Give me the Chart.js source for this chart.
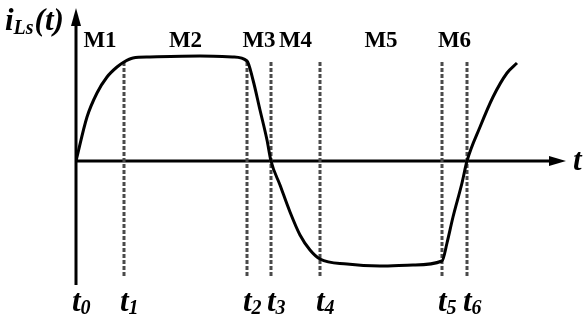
<!DOCTYPE html>
<html>
<head>
<meta charset="utf-8">
<script src="https://cdn.jsdelivr.net/npm/chart.js@4"></script>
<style>
  html, body { margin: 0; padding: 0; background: #fff; }
  #wrap { width: 583px; height: 322px; }
</style>
</head>
<body>
<div id="wrap"><canvas id="waveChart"></canvas></div>
<script>
// switching instants t0..t6 and the modes between them
const instantSubs = ['0', '1', '2', '3', '4', '5', '6'];
const instants = [0, 4.8, 17.1, 19.5, 24.4, 36.6, 39.1];
const modeNames = ['M1', 'M2', 'M3', 'M4', 'M5', 'M6'];

// inductor current iLs(t)
const curveT = [0, 1.1, 2.1, 3.1, 4.1, 4.8, 5.7, 7.4, 12.4, 15.7, 17.1,
  17.7, 18.4, 19.1, 19.5, 20.4, 21.4, 22.4, 23.4, 24.4, 27.1, 30.4, 33.7, 36.6,
  37.1, 37.7, 38.6, 39.1, 40.4, 41.7, 43.1, 44.1];
const curveI = [0, 4.4, 6.8, 8.4, 9.4, 9.9, 10.3, 10.4, 10.5, 10.4, 10.0,
  8.1, 5.1, 2.1, 0, -2.4, -5.1, -7.4, -8.9, -9.8, -10.3, -10.5, -10.4, -10.0,
  -8.2, -5.6, -2.2, 0, 3.4, 6.4, 8.8, 9.8];

// extent of the dotted marker lines
const markerTop = 9.9;
const markerBottom = -11.6;

const serif = '"Liberation Serif", "Times New Roman", serif';

const datasets = [{
  data: curveT.map((t, i) => ({ x: t, y: curveI[i] })),
  borderColor: '#000',
  borderWidth: 3,
  pointRadius: 0,
  cubicInterpolationMode: 'monotone'
}];

// one dotted vertical line per instant after t0
instants.slice(1).forEach(t => {
  datasets.push({
    data: [{ x: t, y: markerTop }, { x: t, y: markerBottom }],
    borderColor: '#4a4a4a',
    borderWidth: 3,
    borderDash: [4, 2],
    pointRadius: 0
  });
});

function drawSub(ctx, x, y, main, sub, size, subSize, subDrop) {
  ctx.font = 'italic bold ' + size + 'px ' + serif;
  ctx.fillText(main, x, y);
  const w = ctx.measureText(main).width;
  ctx.font = 'italic bold ' + subSize + 'px ' + serif;
  ctx.fillText(sub, x + w, y + subDrop);
  return x + w + ctx.measureText(sub).width;
}

const axesPlugin = {
  id: 'axesPlugin',
  beforeDatasetsDraw(chart) {
    const { ctx, chartArea, scales } = chart;
    const x0 = scales.x.getPixelForValue(0);
    const y0 = scales.y.getPixelForValue(0);
    ctx.save();
    ctx.strokeStyle = '#000';
    ctx.fillStyle = '#000';
    ctx.lineWidth = 3;
    // vertical axis
    ctx.beginPath();
    ctx.moveTo(x0, chartArea.bottom);
    ctx.lineTo(x0, chartArea.top + 12);
    ctx.stroke();
    ctx.beginPath();
    ctx.moveTo(x0, chartArea.top);
    ctx.lineTo(x0 - 5, chartArea.top + 18);
    ctx.lineTo(x0 + 5, chartArea.top + 18);
    ctx.closePath();
    ctx.fill();
    // horizontal axis
    ctx.beginPath();
    ctx.moveTo(x0, y0);
    ctx.lineTo(chartArea.right - 12, y0);
    ctx.stroke();
    ctx.beginPath();
    ctx.moveTo(chartArea.right, y0);
    ctx.lineTo(chartArea.right - 17, y0 - 5);
    ctx.lineTo(chartArea.right - 17, y0 + 5);
    ctx.closePath();
    ctx.fill();
    ctx.restore();
  },
  afterDatasetsDraw(chart) {
    const { ctx, chartArea, scales } = chart;
    ctx.save();
    ctx.fillStyle = '#000';
    ctx.textBaseline = 'alphabetic';

    // mode names centred between instants
    ctx.font = 'bold 23px ' + serif;
    ctx.textAlign = 'center';
    modeNames.forEach((m, i) => {
      const xa = scales.x.getPixelForValue(instants[i]);
      const xb = scales.x.getPixelForValue(instants[i + 1]);
      ctx.fillText(m, (xa + xb) / 2, 47);
    });

    // instant labels t0..t6
    ctx.textAlign = 'left';
    instants.forEach((t, i) => {
      const px = scales.x.getPixelForValue(t);
      drawSub(ctx, px - 4, 311, 't', instantSubs[i], 31, 20, 3);
    });

    // axis names
    let x = drawSub(ctx, 5, 30, 'i', 'Ls', 31, 20, 4);
    ctx.font = 'italic bold 31px ' + serif;
    ctx.fillText('(t)', x + 1, 30);
    ctx.fillText('t', chartArea.right + 7, 170);
    ctx.restore();
  }
};

new Chart(document.getElementById('waveChart'), {
  type: 'line',
  data: { datasets },
  options: {
    responsive: true,
    maintainAspectRatio: false,
    animation: false,
    layout: { padding: { left: 76, right: 17, top: 8, bottom: 37 } },
    plugins: { legend: { display: false }, tooltip: { enabled: false } },
    scales: {
      x: { type: 'linear', display: false, min: 0, max: 49 },
      y: { type: 'linear', display: false, min: -12.4, max: 15.3 }
    }
  },
  plugins: [axesPlugin]
});
</script>
</body>
</html>
